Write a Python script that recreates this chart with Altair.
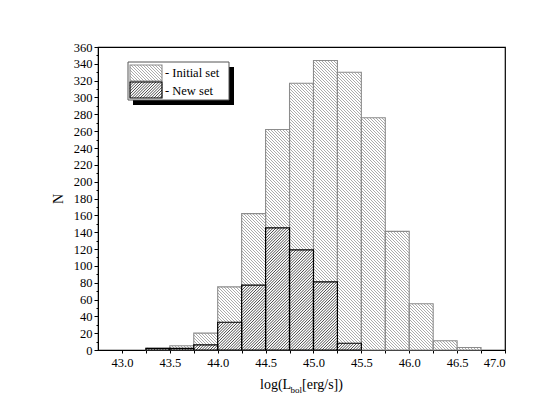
import math
import numpy as np
import pandas as pd
import altair as alt

# ---------------- data ----------------
bin_left = [43.25, 43.5, 43.75, 44.0, 44.25, 44.5, 44.75, 45.0, 45.25, 45.5, 45.75, 46.0, 46.25, 46.5]
initial_counts = [2, 5, 20, 75, 162, 262, 317, 344, 330, 276, 141, 55, 11, 3]
new_counts = [2, 2, 6, 33, 77, 145, 119, 81, 8, 0, 0, 0, 0, 0]
bin_width = 0.25
x_ticks = [43.0 + 0.25 * i for i in range(17)]
y_ticks = list(range(0, 361, 10))
legend_labels = ["- Initial set", "- New set"]

# ---------------- layout ----------------
X0, X1 = 42.75, 47.0
Y0, Y1 = 0, 360
W, H = 407, 303
kx = W / (X1 - X0)
ky = H / (Y1 - Y0)
FONT = "Liberation Serif"

xscale = alt.Scale(domain=[X0, X1], nice=False, zero=False)
yscale = alt.Scale(domain=[Y0, Y1], nice=False)


def bars_df(counts):
    rows = []
    for l, c in zip(bin_left, counts):
        if c > 0:
            rows.append({"x": l, "x2": l + bin_width, "y": 0, "y2": c})
    return pd.DataFrame(rows)


def hatch(rects, d, direction):
    """rects: list of (xa, xb, ya, yb) in data units; d: horizontal spacing in px"""
    rows = []
    for xa, xb, ya, yb in rects:
        u0, u1 = (xa - X0) * kx, (xb - X0) * kx
        v0, v1 = (ya - Y0) * ky, (yb - Y0) * ky
        if direction == "back":  # "\" lines : u + v = c
            cmin, cmax = u0 + v0, u1 + v1
        else:  # "/" lines : v - u = c
            cmin, cmax = v0 - u1, v1 - u0
        c = math.ceil(cmin / d) * d
        while c < cmax:
            if direction == "back":
                ua, ub = max(u0, c - v1), min(u1, c - v0)
                if ub > ua:
                    rows.append({"x": X0 + ua / kx, "y": Y0 + (c - ua) / ky,
                                 "x2": X0 + ub / kx, "y2": Y0 + (c - ub) / ky})
            else:
                ua, ub = max(u0, v0 - c), min(u1, v1 - c)
                if ub > ua:
                    rows.append({"x": X0 + ua / kx, "y": Y0 + (ua + c) / ky,
                                 "x2": X0 + ub / kx, "y2": Y0 + (ub + c) / ky})
            c += d
    return pd.DataFrame(rows)


def px2x(px):
    return X0 + px / kx


def py2y(py):
    return Y1 - py / ky


init_df = bars_df(initial_counts)
new_df = bars_df(new_counts)

init_rects = [(r.x, r.x2, r.y, r.y2) for r in init_df.itertuples()]
new_rects = [(r.x, r.x2, r.y, r.y2) for r in new_df.itertuples()]

# legend geometry (plot-area pixels, y down)
box = (30, 15, 131, 53)
shadow_off = 5
sw1 = (32, 18, 64, 34)
sw2 = (32, 35, 64, 51)


def rect_data(b):
    return (px2x(b[0]), px2x(b[2]), py2y(b[3]), py2y(b[1]))


leg_init_rect = rect_data(sw1)
leg_new_rect = rect_data(sw2)

x_axis = alt.Axis(values=x_ticks, format=".1f",
                  labelExpr="(datum.value * 2) % 1 == 0 ? datum.label : ''",
                  title=None, grid=False, tickSize=3, labelPadding=3,
                  labelFont=FONT, labelFontSize=12.5, labelColor="black",
                  domainColor="black", tickColor="black")
y_axis = alt.Axis(values=y_ticks,
                  labelExpr="datum.value % 20 == 0 ? datum.label : ''",
                  tickSize={"condition": {"test": "datum.value % 20 == 0", "value": 4}, "value": 2},
                  title="N", titleFont=FONT, titleFontSize=14, titleFontWeight="normal",
                  titleColor="black", titlePadding=8,
                  grid=False, labelPadding=2,
                  labelFont=FONT, labelFontSize=12.5, labelColor="black",
                  domainColor="black", tickColor="black")


def rect_layer(df, fill, stroke, sw):
    enc = dict(
        x=alt.X("x:Q", scale=xscale, axis=x_axis),
        x2="x2:Q",
        y=alt.Y("y:Q", scale=yscale, axis=y_axis),
        y2="y2:Q",
    )
    return alt.Chart(df).mark_rect(fill=fill, stroke=stroke, strokeWidth=sw).encode(**enc)


def line_layer(df, color, sw):
    return alt.Chart(df).mark_rule(color=color, strokeWidth=sw).encode(
        x=alt.X("x:Q", scale=xscale, axis=x_axis), x2="x2:Q",
        y=alt.Y("y:Q", scale=yscale, axis=y_axis), y2="y2:Q")


LIGHT_LINE = "#969696"
DARK_LINE = "#2a2a2a"
LIGHT_D = 3.0
DARK_D = 2.8

layers = [
    rect_layer(init_df, "white", None, 0),
    line_layer(hatch(init_rects, LIGHT_D, "back"), LIGHT_LINE, 0.8),
    rect_layer(init_df, None, "#8c8c8c", 1.1),
    rect_layer(new_df, "white", None, 0),
    line_layer(hatch(new_rects, DARK_D, "fwd"), DARK_LINE, 0.85),
    rect_layer(new_df, None, "black", 1.2),
]

# legend
sh = (box[0] + shadow_off, box[1] + shadow_off, box[2] + shadow_off, box[3] + shadow_off)
sh_d = rect_data(sh)
box_d = rect_data(box)


def one_rect(r):
    return pd.DataFrame([{"x": r[0], "x2": r[1], "y": r[2], "y2": r[3]}])


layers += [
    rect_layer(one_rect(sh_d), "black", None, 0),
    rect_layer(one_rect(box_d), "white", "#555555", 1),
    rect_layer(one_rect(leg_init_rect), "white", None, 0),
    line_layer(hatch([leg_init_rect], LIGHT_D, "back"), LIGHT_LINE, 0.8),
    rect_layer(one_rect(leg_init_rect), None, "#8c8c8c", 1.1),
    rect_layer(one_rect(leg_new_rect), "white", None, 0),
    line_layer(hatch([leg_new_rect], DARK_D, "fwd"), DARK_LINE, 0.85),
    rect_layer(one_rect(leg_new_rect), None, "black", 1.2),
]

tdf = pd.DataFrame({"k": [0]})


def text_layer(txt, px, py, size, align="left", baseline="middle"):
    return alt.Chart(tdf).mark_text(align=align, baseline=baseline, font=FONT,
                                    fontSize=size, color="black").encode(
        x=alt.value(px), y=alt.value(py), text=alt.value(txt))


layers += [
    text_layer(legend_labels[0], 67, 26, 12.5),
    text_layer(legend_labels[1], 67, 43.5, 12.5),
    text_layer("log(L", 162, 342, 14, baseline="alphabetic"),
    text_layer("bol", 192.5, 346, 9, baseline="alphabetic"),
    text_layer("[erg/s])", 204, 342, 14, baseline="alphabetic"),
]

chart = alt.layer(*layers).properties(
    width=W, height=H,
    padding={"left": 43, "top": 33, "right": 5, "bottom": 5},
    background="white",
).configure_view(
    stroke="black", strokeWidth=1.2
).configure_axis(
    labelFont=FONT, titleFont=FONT
).configure_text(font=FONT)

chart.save("out.html", embed_options={"renderer": "svg", "actions": False})
